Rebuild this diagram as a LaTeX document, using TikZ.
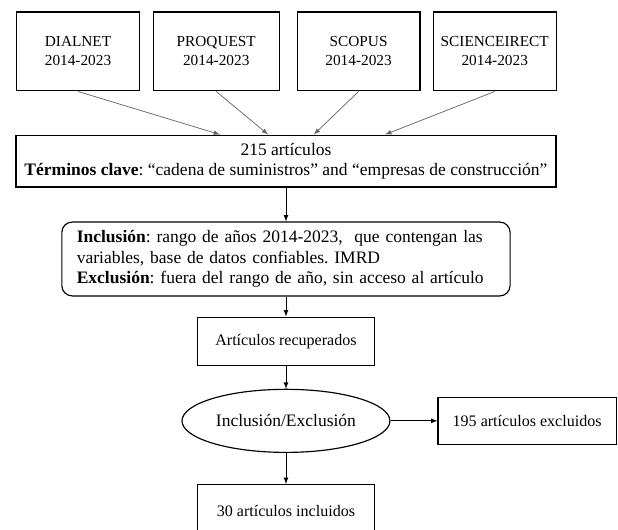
\documentclass[tikz,border=0pt]{standalone}
\usepackage{fontspec}
\setmainfont{Liberation Serif}
\usetikzlibrary{shapes.geometric, arrows, positioning}
\frenchspacing

\begin{document}
\begin{tikzpicture}[node distance=3.35cm]
\tikzstyle{source} = [rectangle, minimum width=2.96cm, minimum height=1.9cm, text centered, align=center, draw=black, line width=0.8pt, font=\fontsize{10.5}{13}\selectfont]
\tikzstyle{summary} = [rectangle, minimum width=13.01cm, minimum height=1.25cm, text centered, align=center, draw=black, line width=0.8pt, font=\fontsize{12}{14}\selectfont]
\tikzstyle{criteria} = [rectangle, rounded corners=0.25cm, text width=10.08cm, inner xsep=0.36cm, minimum height=1.78cm, align=left, draw=black, line width=0.8pt, font=\fontsize{12}{14.2}\selectfont]
\tikzstyle{result} = [rectangle, minimum width=4.27cm, minimum height=1.16cm, text centered, draw=black, line width=0.8pt, font=\fontsize{11}{13}\selectfont]
\tikzstyle{decision} = [ellipse, minimum width=5.01cm, minimum height=1.52cm, inner sep=0pt, text centered, draw=black, line width=0.8pt, font=\fontsize{12}{14}\selectfont]
\tikzstyle{feed} = [-latex, draw=black!60, line width=0.5pt]
\tikzstyle{flow} = [-latex, draw=black, line width=0.5pt]

\useasboundingbox (0,0) rectangle (14.89,-12.75);

% bases de datos
\node (dialnet) [source] at (1.88,-1.24) {DIALNET\\2014-2023};
\node (proquest) [source, right of=dialnet, node distance=3.33cm, minimum width=3.04cm] {PROQUEST\\2014-2023};
\node (scopus) [source, right of=proquest, node distance=3.43cm] {SCOPUS\\2014-2023};
\node (sciencedirect) [source, right of=scopus, node distance=3.28cm] {SCIENCEIRECT\\2014-2023};

\node (total) [summary] at (6.89,-3.88) {215 artículos\\\textbf{Términos clave}: “cadena de suministros” and “empresas de construcción”};

% cribado
\node (crit) [criteria, below of=total, node distance=2.36cm] {\textbf{Inclusión}: rango de años 2014-2023,\ \ que contengan las\\variables,\ base de datos confiables. IMRD\\\textbf{Exclusión}: fuera del rango de año, sin acceso al artículo};
\node (retrieved) [result, below of=crit, node distance=1.98cm] {Artículos recuperados};
\node (filter) [decision, below of=retrieved, node distance=1.92cm] {Inclusión/Exclusión};
\node (excluded) [result, right of=filter, node distance=5.81cm, minimum width=4.29cm, minimum height=1.13cm] {195 artículos excluidos};
\node (included) [result, below of=filter, node distance=2.16cm, minimum height=1.25cm] {30 artículos incluidos};

\draw [feed] (dialnet.south) -- ([xshift=-1.59cm]total.north);
\draw [feed] (proquest.south) -- ([xshift=-0.43cm]total.north);
\draw [feed] (scopus.south) -- ([xshift=0.67cm]total.north);
\draw [feed] (sciencedirect.south) -- ([xshift=2.39cm]total.north);

\draw [flow] (total) -- (crit);
\draw [flow] (crit) -- (retrieved);
\draw [flow] (retrieved) -- (filter);
\draw [flow] (filter) -- (excluded);
\draw [flow] (filter) -- (included);

\end{tikzpicture}
\end{document}
